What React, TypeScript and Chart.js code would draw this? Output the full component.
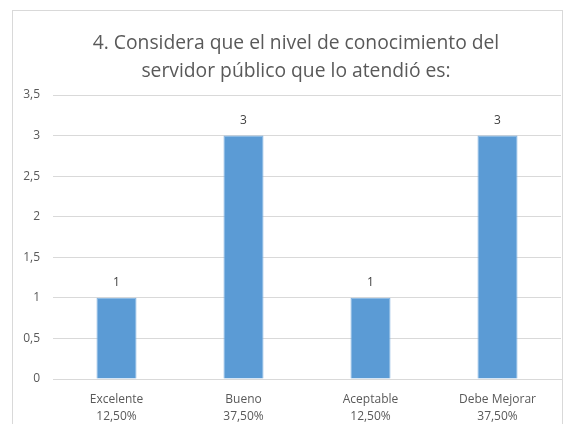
import React, { useEffect, useRef } from "react";
import { Chart, registerables } from "chart.js";

Chart.register(...registerables);

const titleLines = ["4. Considera que el nivel de conocimiento del", "servidor público que lo atendió es:"];
const categories = ["Excelente", "Bueno", "Aceptable", "Debe Mejorar"];
const percentLabels = ["12,50%", "37,50%", "12,50%", "37,50%"];
const values = [1, 3, 1, 3];
const yMax = 3.5;
const yStep = 0.5;

const FONT = "'Open Sans', sans-serif";

const frame = {
  id: "frame",
  beforeDraw(chart: any) {
    const ctx = chart.ctx;
    ctx.save();
    ctx.fillStyle = "#ffffff";
    ctx.fillRect(0, 0, chart.width, chart.height);
    ctx.strokeStyle = "#d9d9d9";
    ctx.lineWidth = 1;
    ctx.strokeRect(12.5, 10.5, chart.width - 16, chart.height + 20);
    ctx.restore();
  },
};

const titleDraw = {
  id: "titleDraw",
  afterDraw(chart: any) {
    const ctx = chart.ctx;
    ctx.save();
    ctx.font = `19.3px ${FONT}`;
    ctx.fillStyle = "#595959";
    ctx.textAlign = "center";
    ctx.textBaseline = "middle";
    titleLines.forEach((line, i) => {
      ctx.fillText(line, 296, 44 + i * 28);
    });
    ctx.restore();
  },
};

const valueLabels = {
  id: "valueLabels",
  afterDatasetsDraw(chart: any) {
    const ctx = chart.ctx;
    const meta = chart.getDatasetMeta(0);
    ctx.save();
    ctx.font = `12px ${FONT}`;
    ctx.fillStyle = "#404040";
    ctx.textAlign = "center";
    ctx.textBaseline = "middle";
    meta.data.forEach((bar: any, i: number) => {
      ctx.fillText(String(chart.data.datasets[0].data[i]), bar.x, bar.y - 15);
    });
    ctx.restore();
  },
};

export default function App() {
  const ref = useRef<HTMLCanvasElement | null>(null);
  useEffect(() => {
    document.body.style.margin = "0";
    const chart = new Chart(ref.current as HTMLCanvasElement, {
      type: "bar",
      data: {
        labels: categories.map((c, i) => [c, percentLabels[i]]),
        datasets: [
          {
            data: values,
            backgroundColor: "#5b9bd5",
            borderColor: "#7fb1e0",
            borderWidth: 1,
            barPercentage: 0.315,
            categoryPercentage: 1,
          },
        ],
      },
      options: {
        animation: false,
        responsive: false,
        maintainAspectRatio: false,
        layout: { padding: { left: 0, right: 5, top: 95, bottom: 0 } },
        plugins: {
          legend: { display: false },
          tooltip: { enabled: false },
          title: { display: false },
        },
        scales: {
          x: {
            grid: { display: false, drawTicks: false },
            border: { display: true, color: "#d9d9d9", width: 1 },
            ticks: {
              color: "#595959",
              font: { family: FONT, size: 12, lineHeight: 1.4 },
              padding: 12,
              maxRotation: 0,
              autoSkip: false,
            },
            afterFit(scale: any) {
              scale.height = 45;
            },
          },
          y: {
            min: 0,
            max: yMax,
            grid: { color: "#d9d9d9", drawTicks: false },
            border: { display: false },
            ticks: {
              stepSize: yStep,
              color: "#595959",
              font: { family: FONT, size: 12 },
              padding: 13,
              callback: (v: any) => String(v).replace(".", ","),
            },
            afterFit(scale: any) {
              scale.width = 53;
            },
          },
        },
      },
      plugins: [frame, titleDraw, valueLabels],
    });
    return () => chart.destroy();
  }, []);
  return <canvas ref={ref} width={566} height={424} style={{ display: "block" }} />;
}
